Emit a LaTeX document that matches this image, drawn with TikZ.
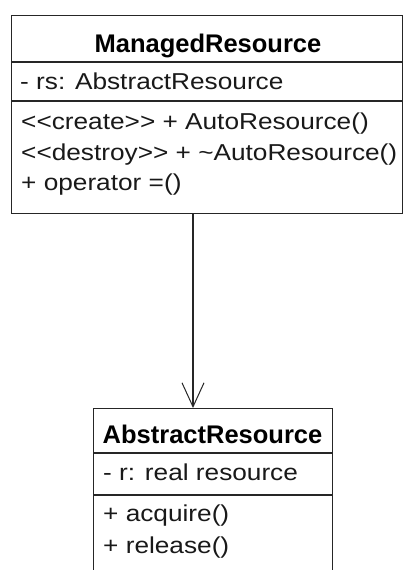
\documentclass[tikz,border=0pt]{standalone}
\usepackage{fontspec}
\usetikzlibrary{arrows.meta}
\newfontfamily\regfont{Liberation Sans}[FakeStretch=1.14]
\newfontfamily\ttlfont{Liberation Sans}
\tikzset{
  umlbox/.style={draw=black!85, line width=1.3pt, rectangle, inner sep=0pt, anchor=north west},
  sepline/.style={draw=black!85, line width=1.3pt},
  member/.style={anchor=base west, inner sep=0pt, font=\regfont\fontsize{23}{27}\selectfont, text=black!90},
  title/.style={anchor=base, inner sep=0pt, font=\ttlfont\bfseries\fontsize{25.5}{30}\selectfont, text=black},
  assoc/.style={draw=black!85, line width=1.3pt, -{Straight Barb[length=24pt,width=22pt,line width=1pt]}}
}
\begin{document}
\begin{tikzpicture}[x=1pt,y=-1pt]
\fill[white] (0,0) rectangle (403,570);
\useasboundingbox (0,0) rectangle (403,570);
% ManagedResource
\node[umlbox, minimum width=391pt, minimum height=198pt] (mr) at (11,15) {};
\draw[sepline] (11,62) -- (402,62);
\draw[sepline] (11,101) -- (402,101);
\node[title] (mrt) at (208,52) {ManagedResource};
\node[member] (mra) at (20,89) {- rs: AbstractResource};
\node[member] (mro1) at (21,129) {<<create>> + AutoResource()};
\node[member] (mro2) at (21,160) {<<destroy>> + \char`\~AutoResource()};
\node[member] (mro3) at (21,190) {+ operator =()};
% AbstractResource
\node[umlbox, minimum width=239pt, minimum height=180pt] (ar) at (93,408) {};
\draw[sepline] (93,453) -- (332,453);
\draw[sepline] (93,495) -- (332,495);
\node[title] (art) at (212.5,443) {AbstractResource};
\node[member] (ara) at (103,480) {- r: real resource};
\node[member] (aro1) at (103,521) {+ acquire()};
\node[member] (aro2) at (103,553) {+ release()};
% association
\coordinate (ax) at (193,300);
\draw[assoc] (mr.south -| ax) -- (ar.north -| ax);
\end{tikzpicture}
\end{document}
